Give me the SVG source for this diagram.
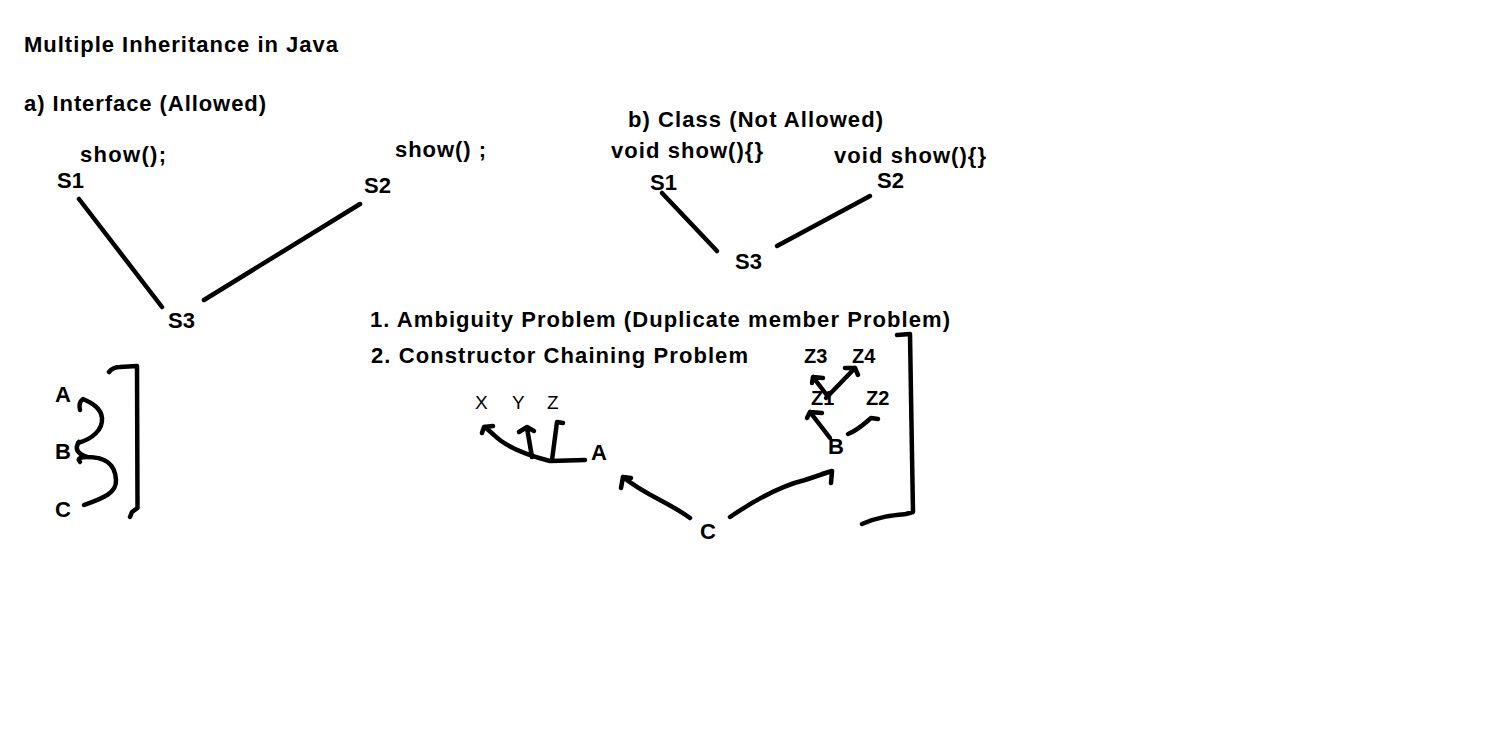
<svg xmlns="http://www.w3.org/2000/svg" width="1508" height="742" viewBox="0 0 1508 742">
<style>
text{font-family:"Liberation Sans",Arial,sans-serif;font-weight:bold;font-size:22px;fill:#000}
.sm{font-size:20px}
.xyz{font-size:19px;font-weight:normal}
.ln{fill:none;stroke:#000;stroke-width:4.5;stroke-linecap:round;stroke-linejoin:round}
</style>
<rect width="1508" height="742" fill="#fff"/>
<g id="titles">
<text x="24" y="52" textLength="314" lengthAdjust="spacing">Multiple Inheritance in Java</text>
<text x="24" y="111" textLength="242" lengthAdjust="spacing">a) Interface (Allowed)</text>
<text x="628" y="127" textLength="255" lengthAdjust="spacing">b) Class (Not Allowed)</text>
<text x="370" y="327" textLength="580" lengthAdjust="spacing">1. Ambiguity Problem (Duplicate member Problem)</text>
<text x="371" y="363" textLength="377" lengthAdjust="spacing">2. Constructor Chaining Problem</text>
</g>
<g id="a-S1"><text x="80" y="162" textLength="86" lengthAdjust="spacing">show();</text><text x="57" y="188">S1</text></g>
<g id="a-S2"><text x="395" y="157" textLength="91" lengthAdjust="spacing">show() ;</text><text x="364" y="193">S2</text></g>
<g id="a-S3"><text x="168" y="328">S3</text></g>
<g id="b-S1"><text x="611" y="158" textLength="152" lengthAdjust="spacing">void show(){}</text><text x="650" y="190">S1</text></g>
<g id="b-S2"><text x="834" y="163" textLength="152" lengthAdjust="spacing">void show(){}</text><text x="877" y="188">S2</text></g>
<g id="b-S3"><text x="735" y="269">S3</text></g>
<g id="chain-A"><text x="55" y="402">A</text></g>
<g id="chain-B"><text x="55" y="459">B</text></g>
<g id="chain-C"><text x="55" y="517">C</text></g>
<g id="X"><text class="xyz" x="475" y="409">X</text></g>
<g id="Y"><text class="xyz" x="512" y="409">Y</text></g>
<g id="Z"><text class="xyz" x="547" y="409">Z</text></g>
<g id="A"><text x="591" y="460">A</text></g>
<g id="C"><text x="700" y="539">C</text></g>
<g id="B"><text x="828" y="454">B</text></g>
<g id="Z1"><text class="sm" x="811" y="405">Z1</text></g>
<g id="Z2"><text class="sm" x="866" y="405">Z2</text></g>
<g id="Z3"><text class="sm" x="804" y="363">Z3</text></g>
<g id="Z4"><text class="sm" x="852" y="363">Z4</text></g>
<g id="connectors" class="ln">
<path class="ln" d="M79 199 L162 307"/>
<path class="ln" d="M360 204 L204 300"/>
<path class="ln" d="M662 193 L717 251"/>
<path class="ln" d="M870 196 L777 246"/>
<path class="ln" d="M109 372 Q113 367 120 367 L137 366 L137.5 508 L132 512 L130 517"/>
<path class="ln" d="M78 443 C92 439 103 430 102 418 C101 408 92 403 83 399 C79 402 79 406 80 410"/>
<path class="ln" d="M84 505 C100 499 117 494 116 480 C115 462 103 457 87 457 C82 457 76 458 80 462 M87 457 C78 454 74 449 79 442"/>
<path class="ln" d="M585 460 L550 461 C530 456 508 449 494 435 L485 427 M484 427 L482 433 M484 427 L493 426"/>
<path class="ln" d="M532 457 L527 428 M519 432 L527 427 L534 431"/>
<path class="ln" d="M552 460 L557 422 M557 422 L563 423"/>
<path class="ln" d="M690 518 C670 503 645 495 623 477 M623 477 L621 488 M623 477 L631 478"/>
<path class="ln" d="M730 517 C755 500 780 486 805 480 L832 471 M832 471 L831 483 M832 471 L822 474"/>
<path class="ln" d="M830 438 L810 412 M810 412 L807 418 M810 412 L822 413"/>
<path class="ln" d="M848 434 C858 430 864 424 871 418 L878 419"/>
<path class="ln" d="M826 394 L813 377 M813 377 L812 383 M813 377 L823 378"/>
<path class="ln" d="M826 398 L855 368 M855 368 L845 368 M855 368 L858 375"/>
<path class="ln" d="M897 335 L910 334 L912 455 L913 512 L906 514 C895 515 880 516 862 524"/>
</g>
</svg>
